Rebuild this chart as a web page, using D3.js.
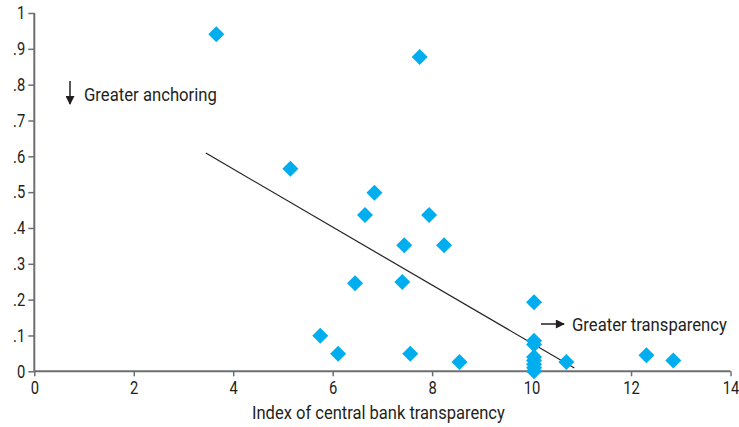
<!DOCTYPE html>
<html>
<head>
<meta charset="utf-8">
<script src="https://cdn.jsdelivr.net/npm/d3@7"></script>
<style>
  body { margin: 0; background: #fff; }
  text { font-family: "Roboto", "Liberation Sans", sans-serif; fill: #231f20; }
</style>
</head>
<body>
<div id="chart"></div>
<script>
// transparency index vs. anchoring measure
var transparency = [3.66, 7.75, 5.15, 6.84, 6.65, 7.94, 7.44, 8.24, 6.45, 7.40, 10.05, 5.75, 6.11, 7.56, 8.55,
  10.05, 10.05, 10.05, 10.05, 10.05, 10.05, 10.05, 10.70, 12.31, 12.85];
var anchoring = [0.941, 0.877, 0.565, 0.498, 0.436, 0.436, 0.352, 0.352, 0.246, 0.249, 0.193, 0.099, 0.049, 0.049, 0.026,
  0.085, 0.075, 0.04, 0.03, 0.02, 0.01, 0.0, 0.026, 0.045, 0.03];
// fitted line end points
var fitX = [3.45, 10.86];
var fitY = [0.609, 0.009];
var xTicks = [0, 2, 4, 6, 8, 10, 12, 14];
var yTicks = [0, 0.1, 0.2, 0.3, 0.4, 0.5, 0.6, 0.7, 0.8, 0.9, 1];

var width = 739,
    height = 427;

var svg = d3.select('#chart').append('svg').attr('width', width).attr('height', height);

var xScale = d3.scaleLinear().domain([0, 14]).range([34.3, 730.5]);
var yScale = d3.scaleLinear().domain([0, 1]).range([371.3, 13]);

var fmt = function(d) {
  if (d === 0) return '0';
  if (d === 1) return '1';
  return d3.format('.1f')(d).replace(/^0/, '');
};

var xAxis = d3.axisBottom(xScale).tickValues(xTicks).tickSize(5).tickPadding(5).tickFormat(d3.format('d'));
var yAxis = d3.axisLeft(yScale).tickValues(yTicks).tickSize(6).tickPadding(3).tickFormat(fmt);

var gx = svg.append('g')
  .attr('transform', 'translate(0,' + yScale(0) + ')')
  .call(xAxis);
var gy = svg.append('g')
  .attr('transform', 'translate(' + xScale(0) + ',0)')
  .call(yAxis);

// squeeze tick labels to look condensed
function condense(sel, k) {
  sel.each(function() {
    var t = d3.select(this);
    var x = +t.attr('x') || 0, y = +t.attr('y') || 0;
    t.attr('x', 0).attr('y', 0)
      .attr('transform', 'translate(' + x + ',' + y + ') scale(' + k + ',1)');
  });
}

// place a left-anchored text squeezed to a given width
function label(x, y, size, w, str) {
  var t = svg.append('text')
    .attr('x', 0).attr('y', 0)
    .style('font-size', size + 'px')
    .text(str);
  var k = w / t.node().getComputedTextLength();
  t.attr('transform', 'translate(' + x + ',' + y + ') scale(' + k + ',1)');
  return t;
}

[gx, gy].forEach(function(g) {
  g.select('.domain').attr('stroke', '#6d6e71').attr('stroke-width', 2);
  g.selectAll('.tick line').attr('stroke', '#6d6e71').attr('stroke-width', 1.5);
  g.selectAll('.tick text').style('font-size', '18px').attr('fill', '#231f20').call(condense, 0.82);
});
gx.select('.domain').attr('d', 'M' + xScale(0) + ',0H' + xScale(14));
gy.select('.domain').attr('d', 'M0,' + yScale(0) + 'V' + yScale(1));

label(252, 419, 18, 253, 'Index of central bank transparency');

// regression line
var line = d3.line()
  .x(function(d) { return xScale(d[0]); })
  .y(function(d) { return yScale(d[1]); });

svg.append('path')
  .attr('d', line(d3.zip(fitX, fitY)))
  .attr('fill', 'none')
  .attr('stroke', '#231f20')
  .attr('stroke-width', 1.2);

// diamonds
var diamond = d3.symbol().type(d3.symbolSquare).size(128);
svg.append('g').selectAll('path')
  .data(d3.zip(transparency, anchoring))
  .enter().append('path')
  .attr('d', diamond)
  .attr('transform', function(d) {
    return 'translate(' + xScale(d[0]) + ',' + yScale(d[1]) + ') rotate(45)';
  })
  .attr('fill', '#00aeef');

// annotations
svg.append('defs').append('marker')
  .attr('id', 'arr')
  .attr('viewBox', '0 0 10 10')
  .attr('refX', 9).attr('refY', 5)
  .attr('markerWidth', 10).attr('markerHeight', 9)
  .attr('markerUnits', 'userSpaceOnUse')
  .attr('orient', 'auto')
  .append('path').attr('d', 'M0,0L10,5L0,10Z').attr('fill', '#231f20');

svg.append('line')
  .attr('x1', 70).attr('y1', 81).attr('x2', 70).attr('y2', 104)
  .attr('stroke', '#231f20').attr('stroke-width', 1.5)
  .attr('marker-end', 'url(#arr)');
label(84, 101, 19, 133, 'Greater anchoring');

svg.append('line')
  .attr('x1', 541).attr('y1', 324).attr('x2', 564).attr('y2', 324)
  .attr('stroke', '#231f20').attr('stroke-width', 1.5)
  .attr('marker-end', 'url(#arr)');
label(572, 331, 19, 155, 'Greater transparency');
</script>
</body>
</html>
